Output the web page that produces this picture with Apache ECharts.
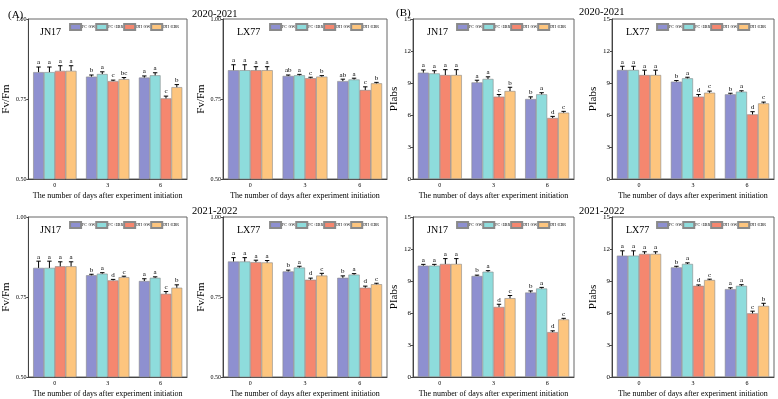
<!DOCTYPE html>
<html><head><meta charset="utf-8">
<script src="https://cdn.jsdelivr.net/npm/echarts@6/dist/echarts.min.js"></script>
<style>html,body{margin:0;padding:0;background:#fff}#c{width:778px;height:399px}</style>
</head><body><div id="c"></div>
<script>
const days = ['0', '3', '6'];
const treatments = ['FC+SW', 'FC+EBR', 'DH+SW', 'DH+EBR'];
const colors = ['#8e90d0', '#8edcdc', '#f5876f', '#fdc57e'];
const fvfmTicks = [0.5, 1.0, 0.25];
const piabsTicks = [0, 15, 3];

// values[treatment][day]
const fvfm_JN17_2021 = [[0.834, 0.820, 0.817], [0.834, 0.828, 0.824], [0.838, 0.806, 0.752], [0.838, 0.812, 0.787]];
const fvfm_JN17_2021_err = [[0.016, 0.005, 0.005], [0.016, 0.007, 0.008], [0.016, 0.003, 0.007], [0.016, 0.005, 0.008]];
const fvfm_JN17_2021_sig = [['a', 'b', 'a'], ['a', 'a', 'a'], ['a', 'c', 'c'], ['a', 'bc', 'b']];

const fvfm_LX77_2021 = [[0.840, 0.822, 0.806], [0.840, 0.824, 0.811], [0.840, 0.815, 0.778], [0.840, 0.820, 0.799]];
const fvfm_LX77_2021_err = [[0.017, 0.003, 0.006], [0.017, 0.003, 0.004], [0.011, 0.003, 0.010], [0.011, 0.003, 0.003]];
const fvfm_LX77_2021_sig = [['a', 'ab', 'ab'], ['a', 'a', 'a'], ['a', 'c', 'c'], ['a', 'b', 'b']];

const fvfm_JN17_2022 = [[0.841, 0.818, 0.800], [0.841, 0.823, 0.810], [0.846, 0.802, 0.760], [0.846, 0.812, 0.779]];
const fvfm_JN17_2022_err = [[0.021, 0.003, 0.007], [0.021, 0.003, 0.003], [0.014, 0.003, 0.007], [0.014, 0.003, 0.009]];
const fvfm_JN17_2022_sig = [['a', 'b', 'a'], ['a', 'a', 'a'], ['a', 'd', 'c'], ['a', 'c', 'b']];

const fvfm_LX77_2022 = [[0.861, 0.830, 0.810], [0.861, 0.842, 0.820], [0.859, 0.804, 0.779], [0.858, 0.817, 0.790]];
const fvfm_LX77_2022_err = [[0.012, 0.004, 0.006], [0.012, 0.004, 0.003], [0.006, 0.005, 0.005], [0.006, 0.007, 0.003]];
const fvfm_LX77_2022_sig = [['a', 'b', 'b'], ['a', 'a', 'a'], ['a', 'd', 'd'], ['a', 'c', 'c']];

const piabs_JN17_2021 = [[9.97, 9.06, 7.50], [9.90, 9.38, 7.94], [9.75, 7.72, 5.72], [9.75, 8.25, 6.22]];
const piabs_JN17_2021_err = [[0.25, 0.2, 0.2], [0.25, 0.2, 0.15], [0.5, 0.2, 0.15], [0.5, 0.35, 0.12]];
const piabs_JN17_2021_sig = [['a', 'a', 'b'], ['a', 'a', 'a'], ['a', 'c', 'd'], ['a', 'b', 'c']];

const piabs_LX77_2021 = [[10.22, 9.13, 7.94], [10.22, 9.44, 8.19], [9.75, 7.72, 6.06], [9.75, 8.09, 7.09]];
const piabs_LX77_2021_err = [[0.35, 0.1, 0.1], [0.35, 0.1, 0.08], [0.45, 0.2, 0.25], [0.45, 0.15, 0.12]];
const piabs_LX77_2021_sig = [['a', 'b', 'b'], ['a', 'a', 'a'], ['a', 'd', 'd'], ['a', 'c', 'c']];

const piabs_JN17_2022 = [[10.44, 9.47, 7.92], [10.44, 9.87, 8.30], [10.60, 6.57, 4.21], [10.60, 7.39, 5.40]];
const piabs_JN17_2022_err = [[0.12, 0.08, 0.15], [0.12, 0.1, 0.1], [0.5, 0.25, 0.12], [0.5, 0.25, 0.1]];
const piabs_JN17_2022_sig = [['a', 'b', 'b'], ['a', 'a', 'a'], ['a', 'd', 'd'], ['a', 'c', 'c']];

const piabs_LX77_2022 = [[11.38, 10.28, 8.24], [11.38, 10.60, 8.55], [11.54, 8.55, 5.97], [11.54, 9.09, 6.66]];
const piabs_LX77_2022_err = [[0.45, 0.1, 0.12], [0.45, 0.1, 0.1], [0.2, 0.08, 0.2], [0.2, 0.08, 0.25]];
const piabs_LX77_2022_sig = [['a', 'b', 'a'], ['a', 'a', 'a'], ['a', 'd', 'c'], ['a', 'c', 'b']];

const panels = [
  {name: 'JN17', yName: 'Fv/Fm', ticks: fvfmTicks, dec: 2, v: fvfm_JN17_2021, e: fvfm_JN17_2021_err, s: fvfm_JN17_2021_sig, left: 26, width: 161, top: 19},
  {name: 'LX77', yName: 'Fv/Fm', ticks: fvfmTicks, dec: 2, v: fvfm_LX77_2021, e: fvfm_LX77_2021_err, s: fvfm_LX77_2021_sig, left: 223, width: 164, top: 19},
  {name: 'JN17', yName: 'PIabs', ticks: piabsTicks, dec: 0, v: piabs_JN17_2021, e: piabs_JN17_2021_err, s: piabs_JN17_2021_sig, left: 413, width: 161, top: 19},
  {name: 'LX77', yName: 'PIabs', ticks: piabsTicks, dec: 0, v: piabs_LX77_2021, e: piabs_LX77_2021_err, s: piabs_LX77_2021_sig, left: 612, width: 162, top: 19},
  {name: 'JN17', yName: 'Fv/Fm', ticks: fvfmTicks, dec: 2, v: fvfm_JN17_2022, e: fvfm_JN17_2022_err, s: fvfm_JN17_2022_sig, left: 26, width: 161, top: 217},
  {name: 'LX77', yName: 'Fv/Fm', ticks: fvfmTicks, dec: 2, v: fvfm_LX77_2022, e: fvfm_LX77_2022_err, s: fvfm_LX77_2022_sig, left: 223, width: 164, top: 217},
  {name: 'JN17', yName: 'PIabs', ticks: piabsTicks, dec: 0, v: piabs_JN17_2022, e: piabs_JN17_2022_err, s: piabs_JN17_2022_sig, left: 413, width: 161, top: 217},
  {name: 'LX77', yName: 'PIabs', ticks: piabsTicks, dec: 0, v: piabs_LX77_2022, e: piabs_LX77_2022_err, s: piabs_LX77_2022_sig, left: 612, width: 162, top: 217}
];

const FONT = "'Liberation Serif', 'DejaVu Serif', serif";
const PH = 160;
const CATGAP = 0.18;

const grid = [], xAxis = [], yAxis = [], series = [], legend = [];
const ts = {fontFamily: FONT, fontSize: 10.5, fontWeight: 'normal', color: '#000'};
const title = [
  {text: '(A)', left: 3, top: 5, textStyle: {fontFamily: FONT, fontSize: 11, fontWeight: 'normal', color: '#000'}},
  {text: '(B)', left: 391, top: 3, textStyle: {fontFamily: FONT, fontSize: 11, fontWeight: 'normal', color: '#000'}},
  {text: '2020-2021', left: 187, top: 4, textStyle: ts},
  {text: '2020-2021', left: 574, top: 2, textStyle: ts},
  {text: '2021-2022', left: 187, top: 201, textStyle: ts},
  {text: '2021-2022', left: 574, top: 201, textStyle: ts}
];

panels.forEach((p, i) => {
  grid.push({left: p.left, top: p.top, width: p.width, height: PH, show: true, borderColor: '#666', borderWidth: 1, backgroundColor: 'transparent'});
  xAxis.push({
    type: 'category', gridIndex: i, data: days,
    axisLine: {lineStyle: {color: '#444', width: 1}},
    axisTick: {alignWithLabel: true, length: 2, lineStyle: {color: '#444'}},
    axisLabel: {fontFamily: FONT, fontSize: 6, color: '#000', margin: 3},
    name: 'The number of days after experiment initiation', nameLocation: 'middle', nameGap: 13,
    nameTextStyle: {fontFamily: FONT, fontSize: 8, color: '#000'}
  });
  yAxis.push({
    type: 'value', gridIndex: i, min: p.ticks[0], max: p.ticks[1], interval: p.ticks[2],
    splitLine: {show: false},
    axisLine: {show: true, lineStyle: {color: '#444', width: 1}},
    axisTick: {show: true, length: 2, lineStyle: {color: '#444'}},
    axisLabel: {fontFamily: FONT, fontSize: p.dec ? 6 : 7, color: '#000', margin: 2, formatter: v => v.toFixed(p.dec)},
    name: p.yName, nameLocation: 'middle', nameGap: p.dec ? 16 : 13,
    nameTextStyle: {fontFamily: FONT, fontSize: 11, color: '#000'}
  });
  title.push({text: p.name, left: p.left + 9, top: p.top + 3, textStyle: {fontFamily: FONT, fontSize: 10, fontWeight: 'normal', color: '#000'}});
  legend.push({
    data: treatments, right: 778 - (p.left + p.width) + 8, top: p.top + 4, orient: 'horizontal', padding: 0,
    itemWidth: 11, itemHeight: 6, itemGap: 0, selectedMode: false,
    icon: 'rect',
    textStyle: {fontFamily: FONT, fontSize: 4, color: '#000', padding: [0, 0, 0, -4]}
  });
  treatments.forEach((t, k) => {
    series.push({
      type: 'bar', name: t, xAxisIndex: i, yAxisIndex: i, data: p.v[k],
      barGap: '0%', barCategoryGap: (CATGAP * 100) + '%',
      itemStyle: {color: colors[k], borderColor: '#8a8a8a', borderWidth: 0.6},
      silent: true
    });
  });
  const errData = [];
  const sigs = [];
  for (let k = 0; k < 4; k++) for (let d = 0; d < 3; d++) {
    errData.push([d, k, p.v[k][d], p.e[k][d]]);
    sigs.push(p.s[k][d]);
  }
  series.push({
    type: 'custom', xAxisIndex: i, yAxisIndex: i, data: errData, z: 10, silent: true,
    encode: {x: 0, y: 2},
    renderItem: (params, api) => {
      const d = api.value(0), k = api.value(1), v = api.value(2), e = api.value(3);
      const c0 = api.coord([0, v])[0], c1 = api.coord([1, v])[0];
      const catW = c1 - c0;
      const barW = catW * (1 - CATGAP) / 4;
      const x = api.coord([d, v])[0] - catW * (1 - CATGAP) / 2 + (k + 0.5) * barW;
      const yv = api.coord([d, v])[1];
      const yt = api.coord([d, v + e])[1];
      return {type: 'group', children: [
        {type: 'line', shape: {x1: x, y1: yv, x2: x, y2: yt}, style: {stroke: '#000', lineWidth: 1}},
        {type: 'line', shape: {x1: x - 2.2, y1: yt, x2: x + 2.2, y2: yt}, style: {stroke: '#000', lineWidth: 1}},
        {type: 'text', style: {text: sigs[params.dataIndex], x: x, y: yt - 1, align: 'center', verticalAlign: 'bottom', fontFamily: FONT, fontSize: 7, fill: '#000'}}
      ]};
    }
  });
});

const chart = echarts.init(document.getElementById('c'), null, {renderer: 'canvas'});
chart.setOption({animation: false, backgroundColor: '#fff', title, grid, xAxis, yAxis, legend, series});
</script></body></html>
